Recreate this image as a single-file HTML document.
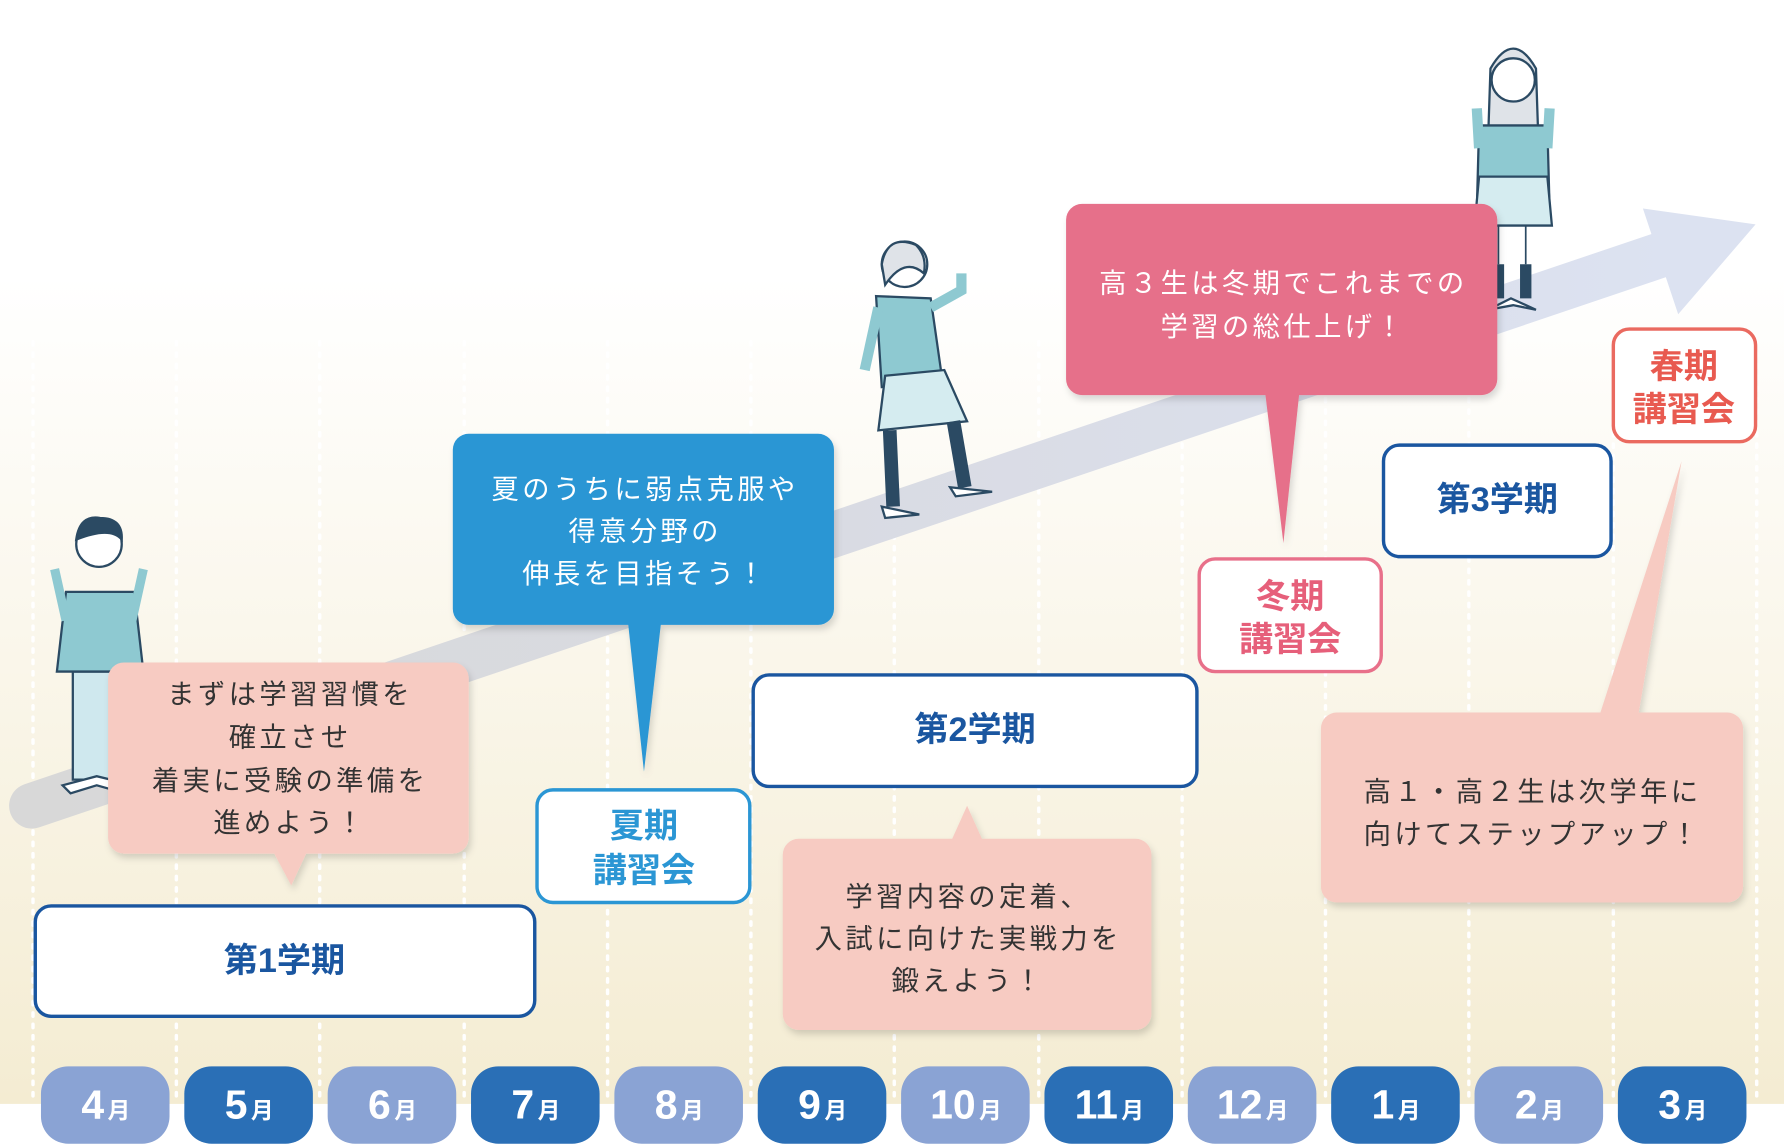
<!DOCTYPE html>
<html><head><meta charset="utf-8"><style>
html,body{margin:0;padding:0;background:#fff}
svg{display:block}
text{font-family:"Liberation Sans","Noto Sans CJK JP",sans-serif}
.ls{letter-spacing:3px}
</style></head><body>
<svg width="1784" height="1144" viewBox="0 0 1568 1005" xmlns="http://www.w3.org/2000/svg">
<defs>
<linearGradient id="bg" x1="0" y1="0" x2="0" y2="1">
<stop offset="0" stop-color="#ffffff"/><stop offset="0.25" stop-color="#ffffff"/><stop offset="1" stop-color="#f4ecd2"/>
</linearGradient>
<linearGradient id="band" x1="0" y1="0" x2="1" y2="0">
<stop offset="0" stop-color="#d8d8d8"/><stop offset="0.5" stop-color="#d9dbe3"/><stop offset="1" stop-color="#dce2f1"/>
</linearGradient>
<filter id="sh" x="-10%" y="-10%" width="120%" height="130%"><feDropShadow dx="2" dy="4" stdDeviation="3" flood-color="#000" flood-opacity="0.15"/></filter>
</defs>
<rect width="1568" height="970" fill="url(#bg)"/>
<g stroke="#fff" stroke-width="3" stroke-dasharray="3 7" stroke-linecap="round">
<line x1="29" y1="300" x2="29" y2="970"/><line x1="155" y1="300" x2="155" y2="970"/><line x1="281" y1="300" x2="281" y2="970"/><line x1="408" y1="300" x2="408" y2="970"/><line x1="534" y1="300" x2="534" y2="970"/><line x1="660" y1="300" x2="660" y2="970"/><line x1="786" y1="300" x2="786" y2="970"/><line x1="913" y1="300" x2="913" y2="970"/><line x1="1039" y1="300" x2="1039" y2="970"/><line x1="1165" y1="300" x2="1165" y2="970"/><line x1="1291" y1="300" x2="1291" y2="970"/><line x1="1418" y1="300" x2="1418" y2="970"/><line x1="1544" y1="300" x2="1544" y2="970"/>
</g>
<line x1="28" y1="708" x2="1465" y2="222" stroke="url(#band)" stroke-width="40" stroke-linecap="round"/>
<polygon points="1543,197 1444,183 1458,225 1475,276" fill="#dce2f1"/>

<g stroke="#2b4a63" stroke-width="2">
<rect x="64" y="590" width="44" height="95" fill="#cfe8ee"/>
<path d="M58 520 L118 520 L126 590 L50 590 Z" fill="#8ec9d1"/>
<path d="M48 500 L58 545 M126 500 L116 545" stroke-width="8" stroke="#8ec9d1"/>
<circle cx="87" cy="478" r="20" fill="#fff"/>
<path d="M67 474 Q70 452 88 455 Q108 455 107 474 Q97 462 67 474Z" fill="#2b4a63"/>
<path d="M55 690 L85 682 L118 690 L110 697 L85 690 L62 697Z" fill="#fff"/>
</g>
<g stroke="#2b4a63" stroke-width="2">
<circle cx="795" cy="232" r="20" fill="#fff"/>
<path d="M775 232 Q780 205 805 215 Q815 225 812 240 Q795 225 778 250Z" fill="#dfe3e8"/>
<path d="M770 260 L818 262 L828 332 L775 340 Z" fill="#8ec9d1"/>
<path d="M818 270 L845 255 L845 240" stroke="#8ec9d1" stroke-width="9" fill="none"/>
<path d="M772 270 L760 325" stroke="#8ec9d1" stroke-width="9" fill="none"/>
<path d="M778 330 L830 325 L850 370 L772 378 Z" fill="#d5ecf0"/>
<path d="M782 378 L785 445 M838 370 L848 428" stroke="#2b4a63" stroke-width="12"/>
<path d="M775 445 L808 452 L778 455Z M835 428 L872 432 L840 436Z" fill="#fff"/>
</g>
<g stroke="#2b4a63" stroke-width="2">
<path d="M1310 60 Q1330 25 1350 60 L1352 120 L1308 120Z" fill="#dfe3e8"/>
<circle cx="1330" cy="70" r="19" fill="#fff"/>
<path d="M1300 110 L1360 110 L1362 185 L1298 185 Z" fill="#8ec9d1"/>
<path d="M1298 95 L1300 130 M1362 95 L1360 130" stroke="#8ec9d1" stroke-width="9"/>
<path d="M1300 155 L1360 155 L1364 198 L1296 198 Z" fill="#d5ecf0"/>
<path d="M1317 198 L1317 232 M1341 198 L1341 232" stroke-width="1.5"/>
<path d="M1317 232 L1317 262 M1341 232 L1341 262" stroke="#2b4a63" stroke-width="10"/>
<path d="M1308 272 L1328 262 L1350 272 L1330 268Z" fill="#fff"/>
</g>

<g filter="url(#sh)"><rect x="95" y="582" width="317" height="168" rx="14" fill="#f7cbc2"/><polygon points="240,748 270,748 256,778" fill="#f7cbc2"/></g>
<g font-size="24" fill="#333" text-anchor="middle" class="ls">
<text x="255" y="618">まずは学習習慣を</text><text x="255" y="656">確立させ</text><text x="255" y="694">着実に受験の準備を</text><text x="255" y="731">進めよう！</text></g>

<g filter="url(#sh)"><rect x="398" y="381" width="335" height="168" rx="14" fill="#2b96d4"/><polygon points="552,547 581,547 566,678" fill="#2b96d4"/></g>
<g font-size="24" fill="#fff" text-anchor="middle" class="ls">
<text x="567" y="438">夏のうちに弱点克服や</text><text x="567" y="475">得意分野の</text><text x="567" y="512">伸長を目指そう！</text></g>

<g filter="url(#sh)"><rect x="937" y="179" width="379" height="168" rx="14" fill="#e6708a"/><polygon points="1112,345 1142,345 1128,477" fill="#e6708a"/></g>
<g font-size="24" fill="#fff" text-anchor="middle" class="ls">
<text x="1128" y="257">高３生は冬期でこれまでの</text><text x="1128" y="295">学習の総仕上げ！</text></g>

<g filter="url(#sh)"><rect x="688" y="737" width="324" height="168" rx="14" fill="#f7cbc2"/><polygon points="836,739 864,739 850,708" fill="#f7cbc2"/></g>
<g font-size="24" fill="#333" text-anchor="middle" class="ls">
<text x="851" y="796">学習内容の定着、</text><text x="851" y="833">入試に向けた実戦力を</text><text x="851" y="870">鍛えよう！</text></g>

<g filter="url(#sh)"><rect x="1161" y="626" width="371" height="167" rx="14" fill="#f7cbc2"/><polygon points="1406,628 1440,628 1478,405" fill="#f7cbc2"/></g>
<g font-size="24" fill="#333" text-anchor="middle" class="ls">
<text x="1347" y="704">高１・高２生は次学年に</text><text x="1347" y="741">向けてステップアップ！</text></g>

<g fill="#fff" stroke="#1a56a0" stroke-width="3">
<rect x="31" y="796" width="439" height="97" rx="14"/>
<rect x="662" y="593" width="390" height="98" rx="14"/>
<rect x="1216" y="391" width="200" height="98" rx="14"/>
</g>
<g font-size="30" font-weight="bold" fill="#1a56a0" text-anchor="middle">
<text x="250" y="854">第1学期</text><text x="857" y="651">第2学期</text><text x="1316" y="449">第3学期</text></g>

<rect x="472" y="694" width="187" height="99" rx="14" fill="#fff" stroke="#2b96d4" stroke-width="3"/>
<g font-size="30" font-weight="bold" fill="#2b96d4" text-anchor="middle"><text x="566" y="736">夏期</text><text x="566" y="775">講習会</text></g>
<rect x="1054" y="491" width="160" height="99" rx="14" fill="#fff" stroke="#e8708a" stroke-width="3"/>
<g font-size="30" font-weight="bold" fill="#e65f7a" text-anchor="middle"><text x="1134" y="534">冬期</text><text x="1134" y="572">講習会</text></g>
<rect x="1418" y="289" width="125" height="99" rx="14" fill="#fff" stroke="#ea6a60" stroke-width="3"/>
<g font-size="30" font-weight="bold" fill="#e85a50" text-anchor="middle"><text x="1480" y="332">春期</text><text x="1480" y="370">講習会</text></g>

<g>
<rect x="36" y="937" width="113" height="68" rx="24" fill="#8aa3d4"/>
<rect x="162" y="937" width="113" height="68" rx="24" fill="#2a6fb6"/>
<rect x="288" y="937" width="113" height="68" rx="24" fill="#8aa3d4"/>
<rect x="414" y="937" width="113" height="68" rx="24" fill="#2a6fb6"/>
<rect x="540" y="937" width="113" height="68" rx="24" fill="#8aa3d4"/>
<rect x="666" y="937" width="113" height="68" rx="24" fill="#2a6fb6"/>
<rect x="792" y="937" width="113" height="68" rx="24" fill="#8aa3d4"/>
<rect x="918" y="937" width="113" height="68" rx="24" fill="#2a6fb6"/>
<rect x="1044" y="937" width="113" height="68" rx="24" fill="#8aa3d4"/>
<rect x="1170" y="937" width="113" height="68" rx="24" fill="#2a6fb6"/>
<rect x="1296" y="937" width="113" height="68" rx="24" fill="#8aa3d4"/>
<rect x="1422" y="937" width="113" height="68" rx="24" fill="#2a6fb6"/>
</g>
<g fill="#fff" font-weight="bold" text-anchor="middle">
<text x="93" y="983"><tspan font-size="36">4</tspan><tspan font-size="20" dx="3">月</tspan></text>
<text x="219" y="983"><tspan font-size="36">5</tspan><tspan font-size="20" dx="3">月</tspan></text>
<text x="345" y="983"><tspan font-size="36">6</tspan><tspan font-size="20" dx="3">月</tspan></text>
<text x="471" y="983"><tspan font-size="36">7</tspan><tspan font-size="20" dx="3">月</tspan></text>
<text x="597" y="983"><tspan font-size="36">8</tspan><tspan font-size="20" dx="3">月</tspan></text>
<text x="723" y="983"><tspan font-size="36">9</tspan><tspan font-size="20" dx="3">月</tspan></text>
<text x="849" y="983"><tspan font-size="36">10</tspan><tspan font-size="20" dx="3">月</tspan></text>
<text x="975" y="983"><tspan font-size="36">11</tspan><tspan font-size="20" dx="3">月</tspan></text>
<text x="1101" y="983"><tspan font-size="36">12</tspan><tspan font-size="20" dx="3">月</tspan></text>
<text x="1227" y="983"><tspan font-size="36">1</tspan><tspan font-size="20" dx="3">月</tspan></text>
<text x="1353" y="983"><tspan font-size="36">2</tspan><tspan font-size="20" dx="3">月</tspan></text>
<text x="1479" y="983"><tspan font-size="36">3</tspan><tspan font-size="20" dx="3">月</tspan></text>
</g>
</svg>
</body></html>
